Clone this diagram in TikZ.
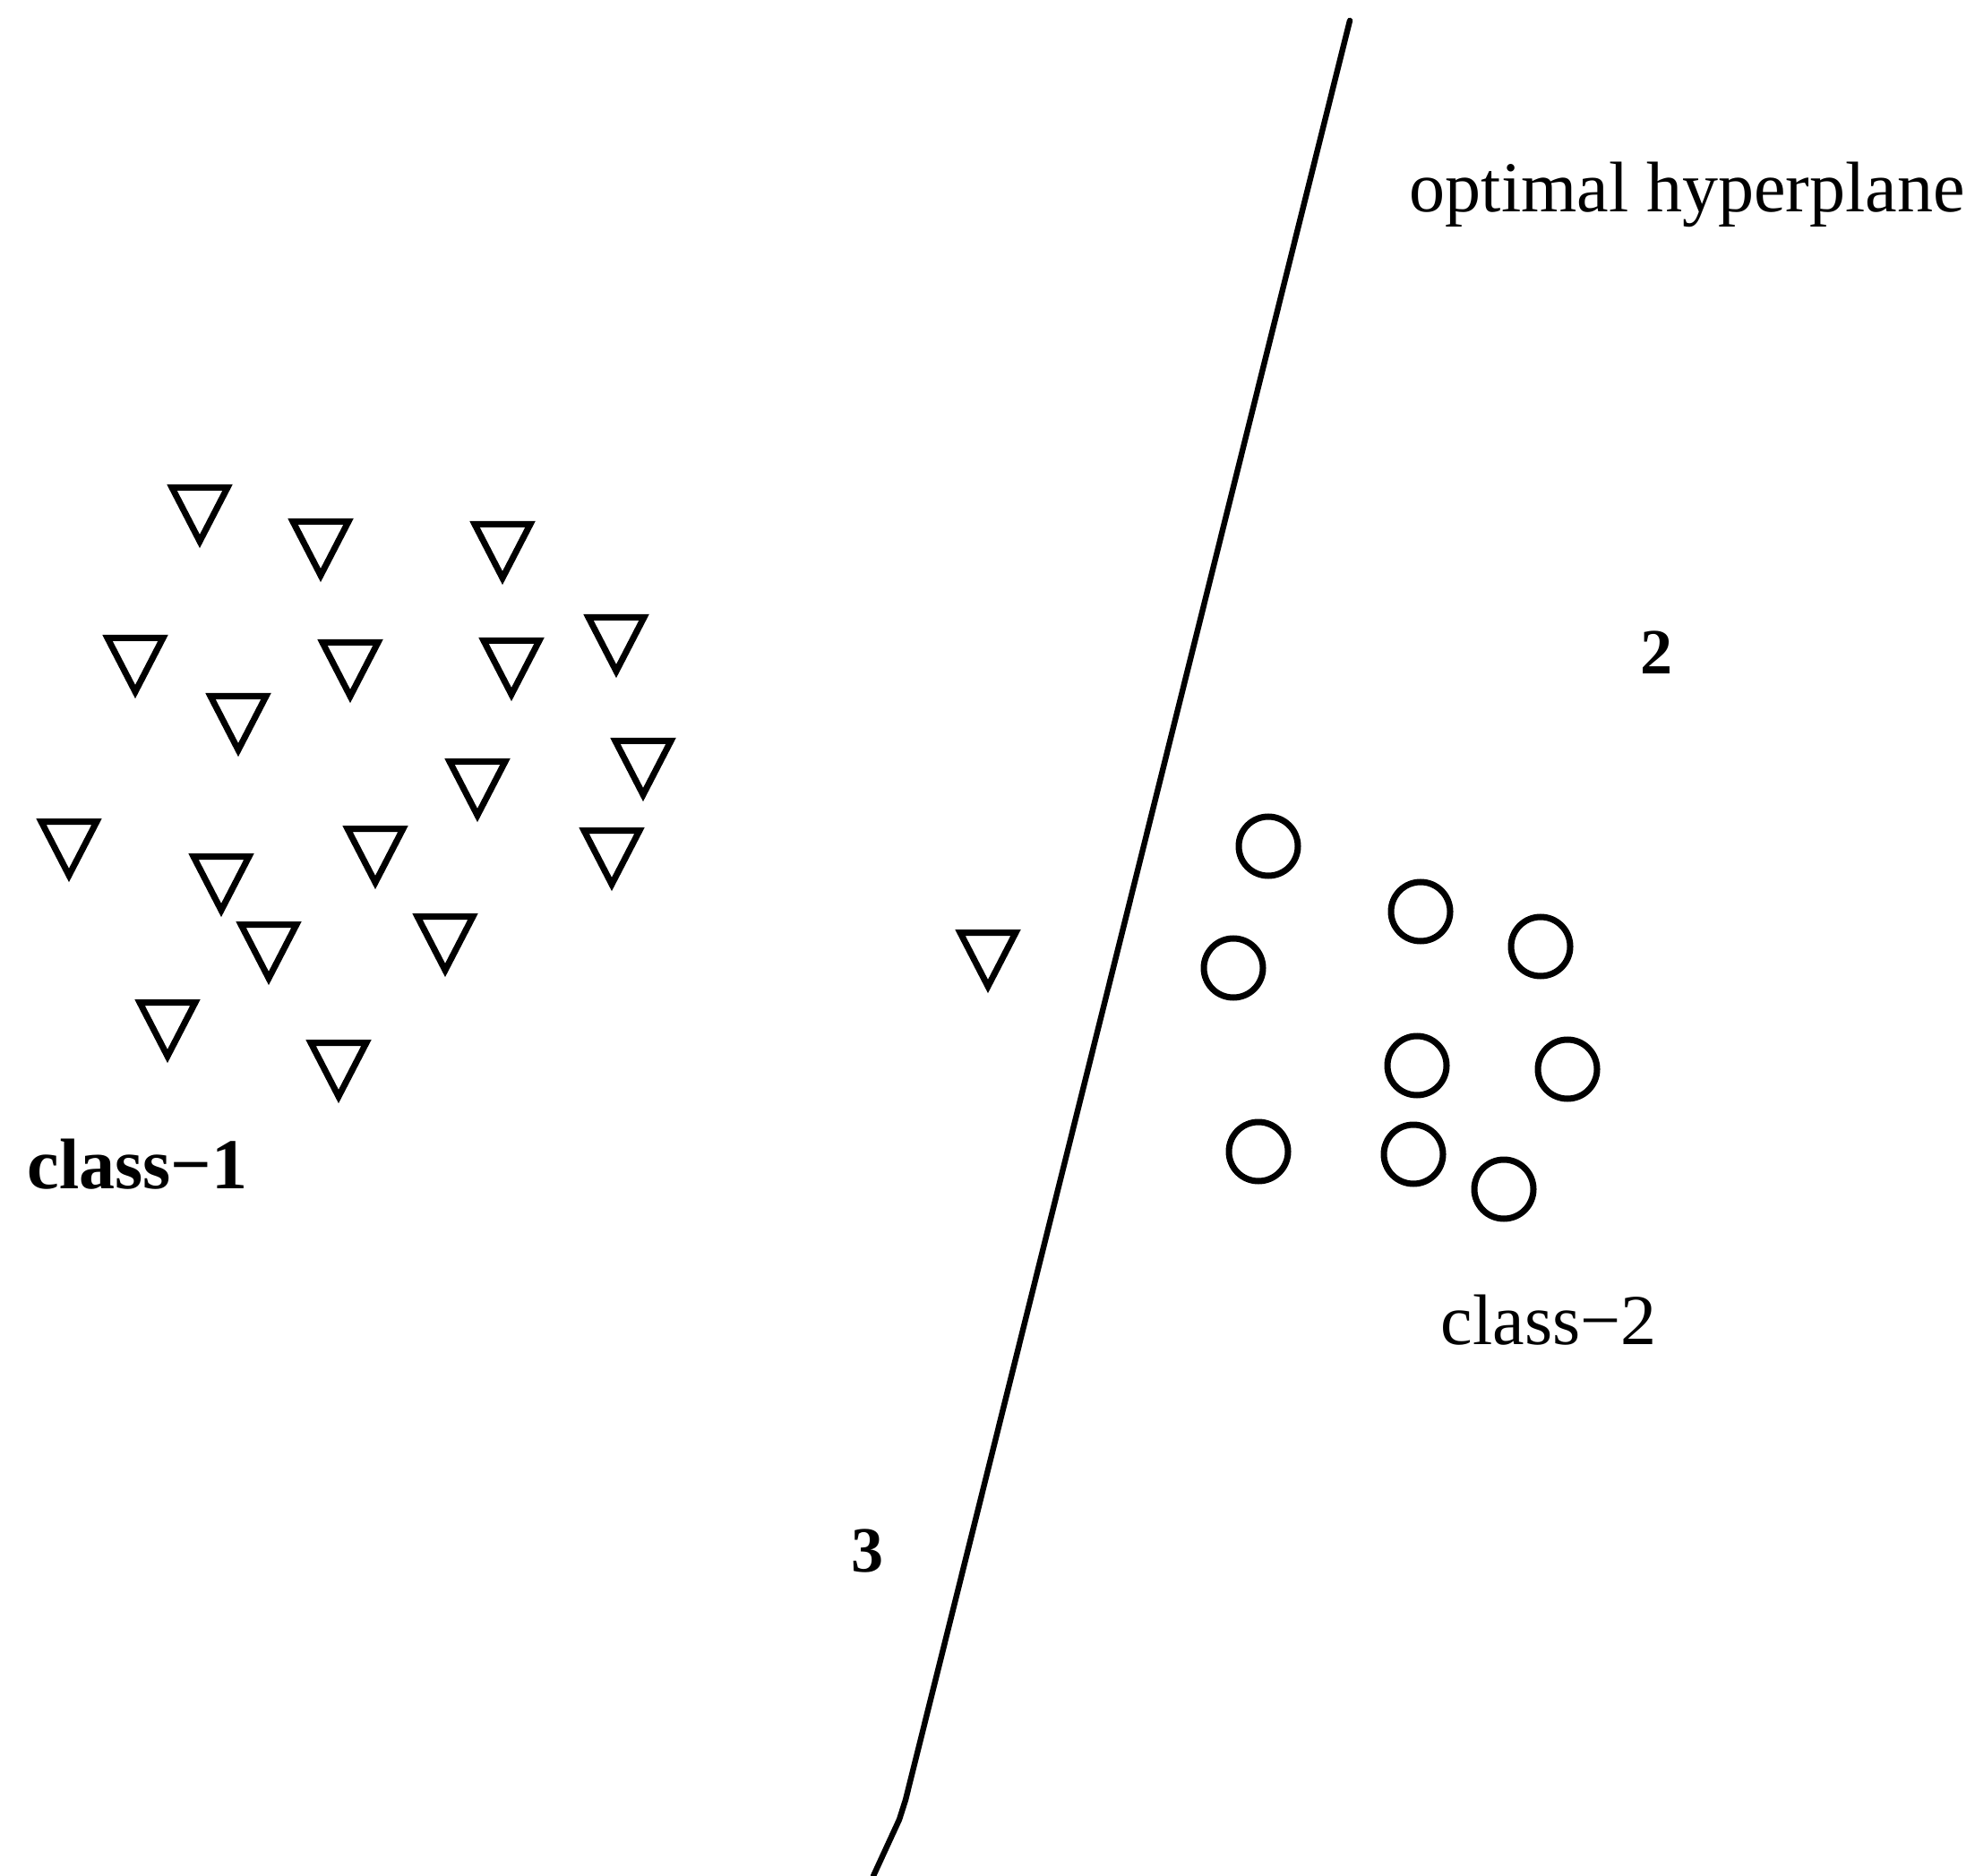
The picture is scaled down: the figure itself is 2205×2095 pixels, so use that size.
\documentclass[tikz,border=0pt]{standalone}
\usepackage{fontspec}
\setmainfont{Liberation Serif}
\begin{document}
\begin{tikzpicture}[x=0.25pt,y=-0.25pt,
  mk/.style={line width=1.75pt, line join=miter},
  tridown/.pic={\draw[mk] (-31,3.5) -- (31,3.5) -- (0,63.5) -- cycle;},
  ring/.style={mk},
  lab/.style={inner sep=0pt, anchor=base west, font=\fontsize{20}{24}\selectfont},
  blab/.style={lab, font=\fontsize{20}{24}\selectfont\bfseries},
  num/.style={lab, font=\fontsize{18}{22}\selectfont\bfseries},
  plane/.style={line width=1.6pt, line join=round, line cap=round}]
\fill[white] (0,0) rectangle (2205,2095);
\useasboundingbox (0,0) rectangle (2205,2095);
% class-1 triangles (top centre)
\pic (t1)  at (223,541)  {tridown};
\pic (t2)  at (358,579)  {tridown};
\pic (t3)  at (561,582)  {tridown};
\pic (t4)  at (151,709)  {tridown};
\pic (t5)  at (391,714)  {tridown};
\pic (t6)  at (571,712)  {tridown};
\pic (t7)  at (688,686)  {tridown};
\pic (t8)  at (266,774)  {tridown};
\pic (t9)  at (533,847)  {tridown};
\pic (t10) at (718,824)  {tridown};
\pic (t11) at (77,914)   {tridown};
\pic (t12) at (419,922)  {tridown};
\pic (t13) at (683,924)  {tridown};
\pic (t14) at (247,953)  {tridown};
\pic (t15) at (300,1029) {tridown};
\pic (t16) at (497,1020) {tridown};
\pic (t17) at (187,1116) {tridown};
\pic (t18) at (378,1161) {tridown};
\pic (t19) at (1103,1038) {tridown};
% class-2 circles
\draw[ring] (1416,945)  circle[radius=33];
\draw[ring] (1586,1018) circle[radius=33];
\draw[ring] (1720,1057) circle[radius=33];
\draw[ring] (1377,1081) circle[radius=33];
\draw[ring] (1582,1190) circle[radius=33];
\draw[ring] (1750,1194) circle[radius=33];
\draw[ring] (1405,1286) circle[radius=33];
\draw[ring] (1578,1289) circle[radius=33];
\draw[ring] (1679,1328) circle[radius=33];
% hyperplane
\coordinate (hTop) at (1507,23);
\coordinate (hKnee) at (1011,2010);
\coordinate (hBend) at (1004,2032);
\coordinate (hEnd) at (975,2095);
\draw[plane] (hTop) -- (hKnee) -- (hBend) -- (hEnd);
% labels
\node[lab]  (lopt) at (1573,237)  {optimal hyperplane};
\node[lab]  (lc2)  at (1608,1501) {class−2};
\node[blab] (lc1)  at (30,1327)   {class−1};
\node[num]  (ln2)  at (1831,753)  {2};
\node[num]  (ln3)  at (950,1755)  {3};
\end{tikzpicture}
\end{document}
